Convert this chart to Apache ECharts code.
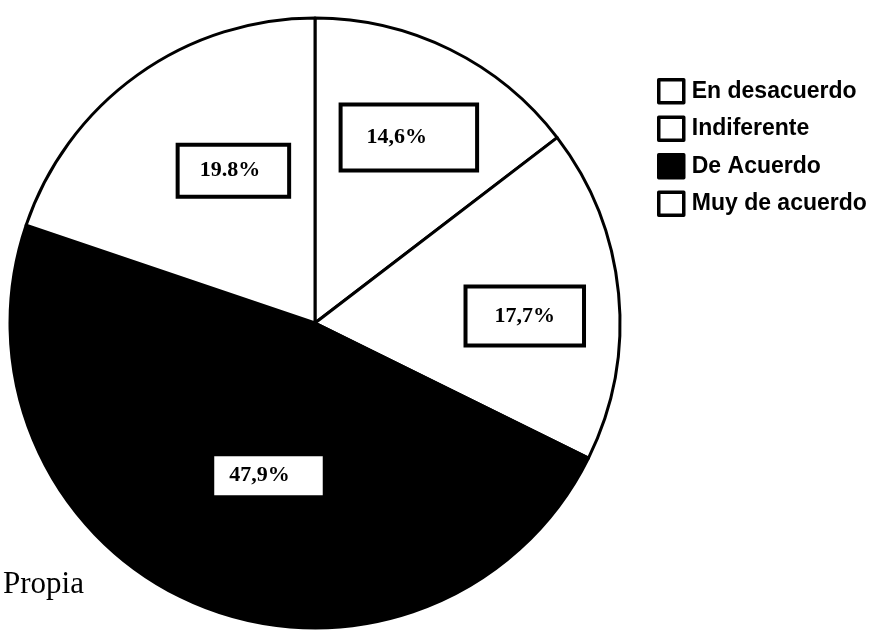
<!DOCTYPE html>
<html>
<head>
<meta charset="utf-8">
<script src="https://cdn.jsdelivr.net/npm/echarts@6/dist/echarts.min.js"></script>
<style>html,body{margin:0;padding:0;background:#fff}#c{width:869px;height:632px}</style>
</head>
<body>
<div id="c"></div>
<script>
var categories = ['En desacuerdo', 'Indiferente', 'De Acuerdo', 'Muy de acuerdo'];
var values = [14.6, 17.7, 47.9, 19.8];
var labelTexts = ['14,6%', '17,7%', '47,9%', '19.8%'];
var sliceColors = ['#ffffff', '#ffffff', '#000000', '#ffffff'];
var labelShift = [[25, -46], [55, 8], [13, 9], [9, -26]];
var labelPad = [[24, 48, 16, 24], [19, 27, 14, 27], [16, 33, 1, 15], [22, 27, 4, 20]];
var sourceText = 'Propia';

var chart = echarts.init(document.getElementById('c'));
chart.setOption({
  animation: false,
  backgroundColor: '#fff',
  graphic: [{
    type: 'text', left: 3, top: 569, z: 10,
    style: { text: sourceText, fill: '#000', font: '31px "Liberation Serif", "Times New Roman", serif' }
  }],
  legend: {
    orient: 'vertical', left: 652, top: 73,
    icon: 'rect', itemWidth: 25, itemHeight: 23, itemGap: 11,
    data: categories,
    textStyle: { fontFamily: 'Liberation Sans', fontWeight: 'bold', fontSize: 23, color: '#000', padding: [0, 0, 0, 3] },
    itemStyle: { borderColor: '#000', borderWidth: 3.5 }
  },
  series: [{
    type: 'pie',
    center: [315, 323],
    radius: 305,
    startAngle: 90,
    clockwise: true,
    avoidLabelOverlap: false,
    data: categories.map(function (c, i) {
      return {
        name: c, value: values[i],
        itemStyle: { color: sliceColors[i], borderColor: '#000', borderWidth: 3 },
        label: { padding: labelPad[i] }
      };
    }),
    label: {
      show: true,
      position: 'inside',
      formatter: function (p) { return labelTexts[p.dataIndex]; },
      fontFamily: 'Liberation Serif', fontWeight: 'bold', fontSize: 22, color: '#000',
      backgroundColor: '#fff', borderColor: '#000', borderWidth: 4
    },
    labelLine: { show: false },
    labelLayout: function (p) {
      return { dx: labelShift[p.dataIndex][0], dy: labelShift[p.dataIndex][1] };
    },
    emphasis: { disabled: true }
  }]
});
</script>
</body>
</html>
